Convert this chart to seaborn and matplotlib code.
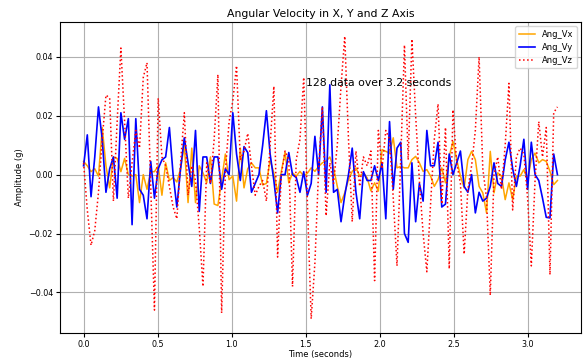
import numpy as np
import pandas as pd
import seaborn as sns
import matplotlib
matplotlib.use("Agg")
import matplotlib.pyplot as plt

# angular velocity samples (128 points over 3.2 s)
ang_vx = [0.0045, 0.003, 0.001, 0.002, -0.0005, 0.016, 0.003, -0.0045, 0.006, 0.0055,
          0.001, 0.0055, 0.0, -0.0005, 0.0, -0.0095, 0.0, -0.005, 0.001, 0.001,
          0.003, -0.007, 0.004, -0.002, -0.001, -0.0025, 0.002, 0.010, -0.0095, 0.009,
          -0.0095, 0.003, 0.0006, -0.0028, 0.006, -0.010, -0.0105, -0.0017, 0.007, -0.0017,
          -0.0005, -0.009, 0.009, -0.0045, 0.002, 0.004, 0.0023, 0.0023, -0.0035, -0.003,
          0.005, 0.0005, -0.006, 0.0011, 0.0075, -0.0028, 0.0006, -0.0005, 0.0011, -0.0005,
          0.0005, 0.0023, 0.0011, 0.0028, 0.004, 0.0045, 0.006, 0.0023, -0.004, -0.0095,
          -0.0062, -0.0017, 0.0011, 0.0023, -0.0005, 0.0006, -0.0011, -0.0055, -0.0028, -0.0056,
          0.0085, 0.0079, 0.0073, 0.0125, 0.0023, 0.0028, 0.0023, 0.0023, 0.0051, 0.0062,
          0.004, 0.0011, 0.0017, -0.0005, -0.004, -0.0017, 0.0023, -0.0028, 0.0062, 0.0113,
          0.0051, -0.0005, -0.0045, 0.0051, 0.0079, 0.0051, -0.004, -0.0062, -0.013, 0.0079,
          -0.0062, 0.0006, -0.0005, -0.0085, -0.0028, -0.0085, -0.0005, -0.0005, 0.0017, -0.0017,
          0.0051, 0.0073, 0.004, 0.0051, 0.0045, 0.0011, -0.0034, -0.002]

ang_vy = [0.003, 0.0135, -0.0075, 0.006, 0.023, 0.012, -0.006, 0.002, 0.006, -0.008,
          0.021, 0.012, 0.019, -0.017, 0.019, -0.005, -0.007, -0.015, 0.0045, -0.008,
          0.002, 0.005, 0.006, 0.016, 0.0, -0.011, 0.002, 0.0125, 0.004, -0.004,
          0.015, -0.0125, 0.006, 0.006, -0.003, 0.006, 0.006, -0.005, 0.002, 0.0,
          0.021, 0.007, -0.002, 0.0095, 0.0075, -0.006, -0.003, 0.0, 0.010, 0.0217,
          0.007, -0.002, -0.013, 0.0, 0.0, 0.0075, 0.0, -0.001, -0.006, 0.001,
          -0.007, -0.003, 0.013, 0.0, 0.023, -0.006, 0.0305, -0.006, -0.005, -0.016,
          -0.007, 0.0, 0.009, -0.006, -0.015, 0.001, -0.002, -0.002, 0.003, -0.002,
          0.004, -0.015, 0.018, -0.005, 0.009, 0.011, -0.020, -0.023, 0.004, -0.016,
          -0.003, -0.009, 0.015, 0.003, 0.003, 0.011, -0.011, -0.010, 0.007, 0.0,
          0.004, 0.008, -0.004, -0.006, 0.0, -0.013, -0.006, -0.009, -0.008, -0.004,
          0.004, -0.003, -0.004, 0.005, 0.011, 0.002, -0.004, 0.003, 0.012, -0.005,
          0.011, 0.0, -0.002, -0.008, -0.0145, -0.0147, 0.007, 0.0]

ang_vz = [0.004, -0.012, -0.024, -0.019, -0.006, 0.012, 0.027, 0.026, -0.009, 0.018,
          0.043, 0.018, -0.008, 0.004, 0.015, 0.009, 0.033, 0.038, -0.004, -0.046,
          0.026, 0.006, 0.003, -0.004, -0.011, -0.015, 0.004, 0.021, -0.007, 0.003,
          -0.002, -0.018, -0.038, 0.004, -0.003, 0.012, 0.034, -0.047, 0.001, 0.018,
          0.025, 0.037, 0.005, 0.008, 0.014, 0.003, -0.007, -0.004, -0.002, -0.009,
          0.010, 0.030, -0.028, 0.0, 0.008, 0.005, -0.038, 0.005, 0.012, 0.033,
          -0.010, -0.049, -0.030, 0.002, 0.023, -0.014, 0.004, -0.003, 0.010, 0.030,
          0.047, 0.012, -0.016, 0.008, -0.004, 0.006, 0.003, 0.008, -0.036, 0.015,
          0.002, 0.015, 0.012, -0.008, -0.031, 0.005, 0.044, 0.005, 0.046, 0.020,
          -0.002, -0.020, -0.033, -0.010, 0.012, 0.024, -0.010, 0.016, -0.032, 0.022,
          0.004, -0.003, -0.027, -0.005, 0.003, 0.015, 0.040, 0.002, -0.008, -0.041,
          0.0, 0.006, -0.005, 0.010, 0.031, -0.012, 0.006, 0.009, 0.007, -0.008,
          -0.031, -0.002, 0.018, 0.006, 0.016, -0.034, 0.021, 0.023]

duration = 3.2
t = np.linspace(0, duration, len(ang_vx))

df = pd.DataFrame({"time": t, "Ang_Vx": ang_vx, "Ang_Vy": ang_vy, "Ang_Vz": ang_vz})

fig = plt.figure(figsize=(5.87, 3.62), dpi=100)
ax = fig.add_axes([0.102, 0.08, 0.888, 0.859])

sns.lineplot(data=df, x="time", y="Ang_Vx", color="orange", linewidth=1.1, label="Ang_Vx", ax=ax)
sns.lineplot(data=df, x="time", y="Ang_Vy", color="blue", linewidth=1.2, label="Ang_Vy", ax=ax)
sns.lineplot(data=df, x="time", y="Ang_Vz", color="red", linewidth=1.1, linestyle=":", label="Ang_Vz", ax=ax)

ax.text(1.5, 0.03, "128 data over 3.2 seconds", fontsize=7.8)
ax.set_title("Angular Velocity in X, Y and Z Axis", fontsize=7.8, pad=4)
ax.set_xlabel("Time (seconds)", fontsize=6, labelpad=1)
ax.set_ylabel("Amplitude (g)", fontsize=6, labelpad=3)
ax.tick_params(labelsize=5.8, pad=2, length=3)
ax.set_yticks([-0.04, -0.02, 0.0, 0.02, 0.04])
ax.grid(True)
ax.legend(loc="upper right", fontsize=6)

fig.savefig("out.png", dpi=100)
